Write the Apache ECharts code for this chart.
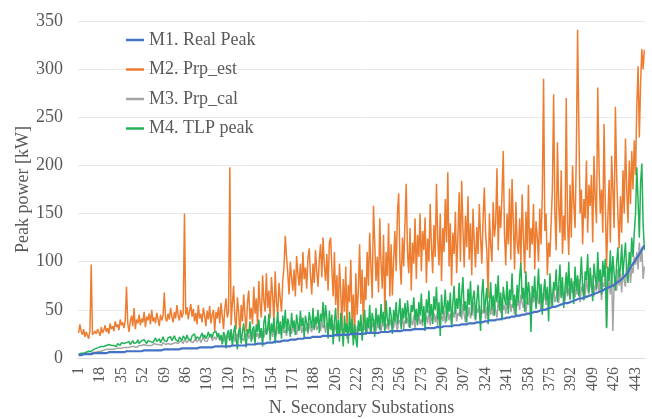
<!DOCTYPE html>
<html>
<head>
<meta charset="utf-8">
<script src="https://cdn.jsdelivr.net/npm/echarts@6/dist/echarts.min.js"></script>
<style>
html,body{margin:0;padding:0;background:#fff;}
#chart{width:652px;height:419px;}
</style>
</head>
<body>
<div id="chart"></div>
<script>
// Category labels: substations numbered 1..450
var categories = [];
for (var k = 1; k <= 450; k++) categories.push(String(k));

var seriesNames = ["M1. Real Peak", "M2. Prp_est", "M3. Prp_cal", "M4. TLP peak"];

// M1. Real Peak
var m1 = [
3,3,3,4,4,4,4,4,4,4,
4,4,5,5,5,5,5,5,5,5,
5,5,5,5,6,6,6,6,6,6,
6,6,6,6,6,6,6,7,7,7,
7,7,7,7,7,7,7,7,7,7,
7,8,8,8,8,8,8,8,8,8,
8,8,8,8,8,8,8,9,9,9,
9,9,9,9,9,9,9,9,9,9,
9,10,10,10,10,10,10,10,10,10,
10,10,10,10,10,11,11,11,11,11,
11,11,11,11,11,11,11,11,12,12,
12,12,12,12,12,12,12,12,12,12,
12,12,13,13,13,13,13,13,13,13,
13,13,13,14,14,14,14,14,14,14,
14,14,15,15,15,15,15,15,15,16,
16,16,16,16,16,17,17,17,17,17,
17,18,18,18,18,18,18,19,19,19,
19,19,19,20,20,20,20,20,20,21,
21,21,21,21,21,21,22,22,22,22,
22,22,22,22,23,23,23,23,23,23,
23,23,23,24,24,24,24,24,24,24,
24,24,24,24,24,25,25,25,25,25,
25,25,25,25,25,25,25,25,26,26,
26,26,26,26,26,26,26,26,26,27,
27,27,27,27,27,27,27,27,28,28,
28,28,28,28,28,28,28,29,29,29,
29,29,29,29,29,29,30,30,30,30,
30,30,30,30,30,31,31,31,31,31,
31,31,31,32,32,32,32,32,32,32,
33,33,33,33,33,33,33,34,34,34,
34,34,34,34,35,35,35,35,35,35,
36,36,36,36,36,36,37,37,37,37,
37,38,38,38,38,38,39,39,39,39,
39,40,40,40,40,40,41,41,41,41,
42,42,42,42,43,43,43,43,44,44,
44,44,45,45,45,45,46,46,46,47,
47,47,48,48,48,49,49,49,50,50,
50,51,51,51,52,52,53,53,53,54,
54,55,55,55,56,56,57,57,57,58,
58,59,59,60,60,60,61,61,62,62,
62,63,63,64,64,65,65,66,66,67,
67,68,68,69,69,70,70,71,72,72,
73,73,74,75,75,76,77,78,79,80,
81,82,83,84,86,87,89,91,94,96,
98,100,102,104,106,108,110,112,115,117
];

// M2. Prp_est
var m2 = [
26,35,28,24,30,22,27,25,20,29,
97,24,22,28,25,30,27,23,32,26,
29,34,27,31,25,36,30,33,28,38,
32,35,29,40,34,37,31,39,74,36,
27,38,44,33,52,30,40,36,45,34,
41,37,48,32,43,39,46,35,50,38,
42,36,47,40,33,45,39,44,68,41,
38,46,40,52,43,37,48,41,55,44,
39,50,42,47,150,45,53,40,49,56,
43,51,38,47,35,55,41,46,37,52,
44,33,49,40,54,36,45,50,28,48,
41,53,36,57,44,30,51,62,42,48,
198,34,56,75,42,30,63,48,22,55,
38,66,45,27,58,70,40,52,35,74,
46,62,33,80,55,42,86,60,48,88,
52,70,41,84,65,36,90,58,45,78,
62,48,80,95,127,105,88,66,100,84,
70,92,64,106,88,75,98,68,110,82,
94,72,104,114,86,66,98,78,112,90,
74,102,118,84,125,96,80,108,70,120,
125,92,64,110,55,86,40,98,70,32,
82,48,95,30,76,58,102,38,66,20,
88,45,70,118,56,92,29,84,60,110,
75,130,95,62,158,120,80,105,68,145,
98,72,128,46,110,85,140,64,118,65,
102,132,90,150,171,100,76,125,95,140,
181,110,88,135,70,120,98,145,82,128,
105,150,90,132,112,146,78,124,100,160,
115,88,138,105,181,125,96,150,80,135,
110,165,120,193,95,140,75,130,108,152,
88,126,172,100,184,135,94,148,115,168,
102,140,86,155,120,94,136,108,160,125,
98,145,177,130,110,62,150,118,100,162,
126,140,197,112,158,135,170,215,128,96,
150,118,176,102,186,140,92,162,120,108,
145,98,170,125,88,152,112,180,104,135,
118,160,92,142,126,100,155,118,170,290,
132,150,86,120,105,140,175,274,150,112,
224,160,130,195,108,148,122,270,140,107,
180,125,200,160,135,212,341,239,150,175,
118,165,145,205,130,180,158,190,120,210,
165,140,281,200,150,175,130,243,160,93,
145,185,120,210,175,135,261,190,150,114,
168,130,195,150,228,175,140,205,160,215,
175,226,190,262,303,229,285,321,300,320
];

// M3. Prp_cal
var m3 = [
3,3,4,4,4,5,4,5,5,6,
5,6,6,7,6,7,7,8,7,8,
8,7,9,8,9,8,9,10,9,9,
10,9,10,11,10,9,11,10,11,12,
11,10,12,11,12,13,11,12,13,12,
13,12,14,12,13,14,13,15,13,14,
15,13,14,16,14,15,13,16,15,14,
16,15,17,14,16,15,17,16,18,15,
16,18,17,15,19,17,16,18,20,17,
18,16,19,21,17,18,20,16,19,22,
18,20,17,21,19,23,18,20,22,19,
21,24,18,20,22,17,23,19,25,21,
18,24,20,26,17,22,25,19,27,21,
23,18,26,22,28,20,24,27,19,25,
29,22,26,20,30,24,27,21,31,25,
23,32,26,29,22,31,27,24,33,28,
25,30,34,26,29,23,33,28,31,25,
35,27,30,24,33,29,36,26,31,34,
28,32,25,37,30,27,35,31,38,29,
33,36,28,39,31,34,26,37,32,35,
29,34,24,36,30,27,33,22,35,28,
31,25,34,20,32,27,36,23,30,26,
33,21,35,28,31,24,37,29,34,27,
38,30,25,36,32,40,28,35,31,39,
27,37,33,42,30,36,29,41,34,38,
31,44,35,28,40,37,33,45,30,39,
36,42,32,47,38,34,44,31,41,37,
46,35,40,33,48,38,43,36,50,34,
42,39,47,37,45,33,51,40,44,38,
49,36,43,52,39,46,35,48,42,54,
38,47,44,51,40,56,45,37,50,43,
53,41,48,58,44,39,52,47,55,42,
50,46,57,40,53,48,60,45,51,44,
56,49,42,59,52,47,62,50,55,46,
58,51,64,48,56,53,45,61,54,60,
50,66,57,52,63,47,59,55,68,51,
62,58,65,53,70,56,61,49,67,59,
72,55,64,60,69,53,66,74,58,63,
70,57,76,62,68,65,59,78,64,72,
60,75,68,80,63,71,66,82,58,74,
69,77,62,84,71,66,80,73,86,64,
76,70,88,68,82,60,78,74,90,32,
72,80,66,86,28,77,84,70,92,75,
88,68,95,80,74,98,85,102,78,94,
88,105,97,110,92,120,100,115,82,95
];

// M4. TLP peak
var m4 = [
4,4,5,5,5,6,6,7,7,8,
7,8,9,8,10,9,11,10,12,11,
12,11,13,12,14,12,13,15,13,14,
12,15,14,13,16,14,15,13,16,15,
17,14,16,18,15,17,16,19,15,17,
18,16,19,17,15,18,20,17,19,16,
18,21,17,19,20,16,19,22,18,20,
17,21,19,22,18,20,23,19,21,17,
22,20,18,23,21,19,24,20,22,18,
23,21,25,19,22,24,20,23,26,21,
24,20,23,27,22,25,21,26,24,28,
22,26,19,24,14,27,23,10,25,29,
18,30,12,26,34,20,9,28,32,15,
27,36,22,11,30,25,38,17,29,33,
14,35,27,40,21,31,12,37,44,24,
30,46,18,36,27,42,15,33,48,25,
38,20,44,30,50,26,41,34,22,47,
31,39,24,45,35,28,49,33,42,21,
44,36,27,48,39,31,52,29,43,35,
50,26,46,38,58,32,55,41,20,49,
30,45,14,38,52,22,40,17,47,33,
12,44,27,36,15,48,24,41,13,35,
20,11,39,28,45,18,34,50,24,42,
31,55,26,47,38,22,52,34,45,29,
56,36,48,27,60,40,33,53,44,25,
50,38,58,35,46,62,30,52,41,57,
36,60,45,31,55,48,63,39,51,34,
58,44,67,37,54,28,61,47,70,42,
56,35,64,50,74,40,58,23,66,45,
53,71,38,60,48,68,32,57,75,46,
62,51,78,43,66,84,49,59,37,72,
55,80,44,63,70,40,58,76,52,28,
67,82,47,61,73,35,56,79,50,65,
44,77,58,86,49,68,39,74,62,55,
80,46,71,60,88,52,66,43,76,58,
84,99,61,73,48,90,56,79,67,27,
75,62,85,51,70,93,57,77,45,68,
82,60,74,38,88,66,54,79,70,92,
58,76,97,63,84,52,72,89,67,100,
61,83,74,56,95,70,86,64,78,105,
73,60,90,81,108,68,94,77,59,98,
85,72,110,79,92,66,101,84,103,31,
95,80,112,74,106,88,70,99,115,83,
93,118,86,104,120,90,78,110,96,125,
105,130,150,198,163,125,182,202,140,112
];

var colors = ["#4472C4", "#ED7D31", "#A5A5A5", "#23B357"];
var fontFam = "'Liberation Serif', 'DejaVu Serif', serif";
var labelColor = "#595959";

var chart = echarts.init(document.getElementById('chart'), null, {renderer: 'canvas'});

function mkSeries(name, data, color, width, z) {
  return {
    name: name, type: 'line', data: data, showSymbol: false, symbol: 'none',
    lineStyle: {color: color, width: width}, itemStyle: {color: color},
    z: z, animation: false
  };
}

chart.setOption({
  animation: false,
  backgroundColor: '#ffffff',
  grid: {left: 78, right: 7, top: 21, bottom: 61, containLabel: false, outerBoundsMode: 'none'},
  legend: {
    show: true, orient: 'vertical', left: 126, top: 30, padding: 0,
    icon: 'rect', itemWidth: 18, itemHeight: 2.5, itemGap: 9.5,
    textStyle: {fontFamily: fontFam, fontSize: 18, color: labelColor, lineHeight: 20},
    data: seriesNames
  },
  xAxis: {
    type: 'category', data: categories, boundaryGap: true,
    name: 'N. Secondary Substations', nameLocation: 'middle', nameGap: 41,
    nameMoveOverlap: false,
    nameTextStyle: {fontFamily: fontFam, fontSize: 18, color: labelColor},
    axisLine: {show: true, lineStyle: {color: '#d9d9d9', width: 1}},
    axisTick: {show: false},
    axisLabel: {interval: 16, rotate: 90, margin: 9, fontFamily: fontFam, fontSize: 16, color: labelColor},
    splitLine: {show: false}
  },
  yAxis: {
    type: 'value', min: 0, max: 350, interval: 50,
    name: 'Peak power [kW]', nameLocation: 'middle', nameGap: 46,
    nameMoveOverlap: false,
    nameTextStyle: {fontFamily: fontFam, fontSize: 18, color: labelColor},
    axisLine: {show: false}, axisTick: {show: false},
    axisLabel: {margin: 15, fontFamily: fontFam, fontSize: 18, color: labelColor},
    splitLine: {show: true, lineStyle: {color: '#e9e9e9', width: 1}}
  },
  series: [
    mkSeries(seriesNames[0], m1, colors[0], 2.2, 6),
    mkSeries(seriesNames[1], m2, colors[1], 1.5, 3),
    mkSeries(seriesNames[2], m3, colors[2], 1.5, 4),
    mkSeries(seriesNames[3], m4, colors[3], 1.5, 5)
  ]
});
</script>
</body>
</html>
